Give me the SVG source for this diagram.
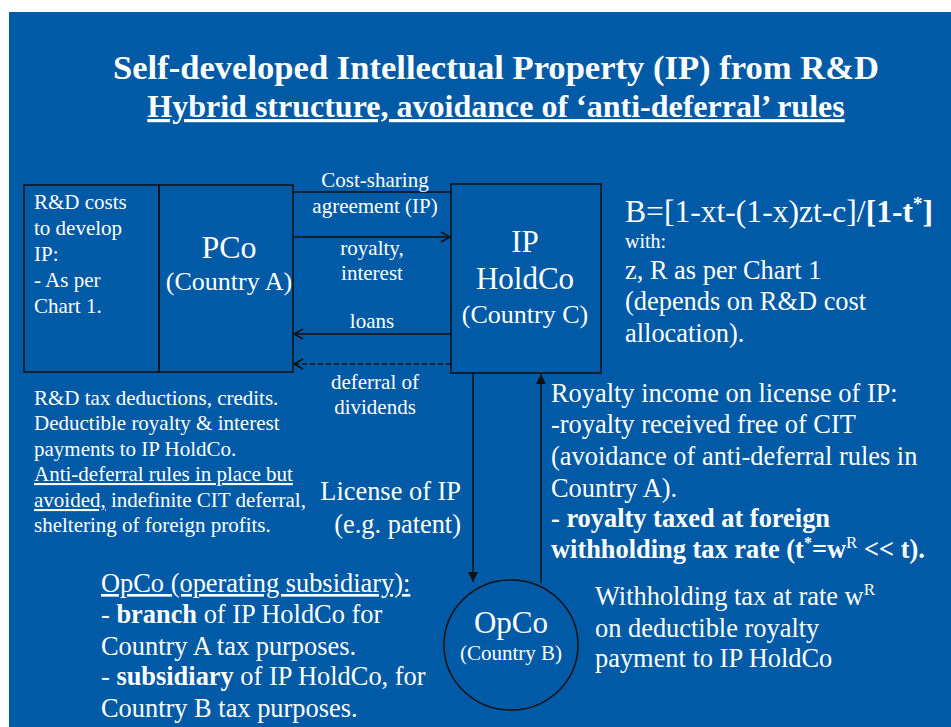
<svg xmlns="http://www.w3.org/2000/svg" width="951" height="727" viewBox="0 0 951 727">
<style>
text{font-family:"Liberation Serif","Times New Roman",serif;fill:#fff}
.t{font-weight:bold}
.s21{font-size:21px}
.s26{font-size:26.4px}
.b{font-weight:bold}
.box{fill:none;stroke:#111;stroke-width:1.5}
.ln{stroke:#111;stroke-width:1.5;fill:none}
</style>
<defs>
<marker id="open" markerUnits="userSpaceOnUse" markerWidth="12" markerHeight="14" refX="10" refY="6" orient="auto">
<path d="M1,1 L10,6 L1,11" fill="none" stroke="#111" stroke-width="1.6"/>
</marker>
<marker id="fill" markerUnits="userSpaceOnUse" markerWidth="12" markerHeight="12" refX="10" refY="5" orient="auto">
<path d="M0,0 L10,5 L0,10 Z" fill="#111"/>
</marker>
</defs>
<rect x="0" y="0" width="951" height="727" fill="#fff"/>
<rect x="9" y="12" width="942" height="715" fill="#005AA5"/>

<g id="title">
<text class="t" x="496" y="79" font-size="34.6" text-anchor="middle">Self-developed Intellectual Property (IP) from R&amp;D</text>
<text class="t" x="496" y="117" font-size="32" text-anchor="middle" text-decoration="underline">Hybrid structure, avoidance of ‘anti-deferral’ rules</text>
</g>

<g id="connectors">
<line class="ln" x1="293" y1="192" x2="451" y2="192"/>
<line class="ln" x1="293" y1="237" x2="450" y2="237" marker-end="url(#open)"/>
<line class="ln" x1="451" y1="334" x2="294" y2="334" marker-end="url(#open)"/>
<line class="ln" x1="451" y1="364" x2="294" y2="364" stroke-dasharray="5,3" marker-end="url(#open)"/>
<line class="ln" x1="473" y1="373" x2="473" y2="582" marker-end="url(#fill)"/>
<line class="ln" x1="541" y1="583" x2="541" y2="374" marker-end="url(#fill)"/>
</g>

<g id="rd-costs">
<rect class="box" x="24" y="185" width="135" height="187"/>
<text class="s21" x="34" y="209">R&amp;D costs</text>
<text class="s21" x="34" y="235">to develop</text>
<text class="s21" x="34" y="261">IP:</text>
<text class="s21" x="34" y="287">- As per</text>
<text class="s21" x="34" y="313">Chart 1.</text>
</g>

<g id="pco">
<rect class="box" x="159" y="185" width="134" height="187"/>
<text x="229" y="258" text-anchor="middle" font-size="32">PCo</text>
<text x="229" y="290" text-anchor="middle" font-size="26">(Country A)</text>
</g>

<g id="ipholdco">
<rect class="box" x="451" y="184" width="150" height="189"/>
<text x="525" y="252" text-anchor="middle" font-size="31">IP</text>
<text x="525" y="289" text-anchor="middle" font-size="31">HoldCo</text>
<text x="525" y="323" text-anchor="middle" font-size="26">(Country C)</text>
</g>

<g id="opco">
<ellipse cx="511" cy="645" rx="67" ry="65" fill="none" stroke="#111" stroke-width="1.5"/>
<text x="511" y="633" text-anchor="middle" font-size="31">OpCo</text>
<text x="511" y="660" text-anchor="middle" font-size="21">(Country B)</text>
</g>

<g id="labels">
<text class="s21" x="375" y="187" text-anchor="middle">Cost-sharing</text>
<text class="s21" x="375" y="213" text-anchor="middle">agreement (IP)</text>
<text class="s21" x="372" y="255" text-anchor="middle">royalty,</text>
<text class="s21" x="372" y="280" text-anchor="middle">interest</text>
<text class="s21" x="372" y="328" text-anchor="middle">loans</text>
<text class="s21" x="375" y="389" text-anchor="middle">deferral of</text>
<text class="s21" x="375" y="414" text-anchor="middle">dividends</text>
<text class="s26" x="461" y="500" text-anchor="end">License of IP</text>
<text class="s26" x="461" y="533" text-anchor="end">(e.g. patent)</text>
</g>

<g id="formula">
<text x="625" y="222" font-size="31.6">B=[1-xt-(1-x)zt-c]/<tspan class="b">[1-t</tspan><tspan class="b" font-size="19" dy="-12">*</tspan><tspan class="b" dy="12">]</tspan></text>
<text x="625" y="248" font-size="20">with:</text>
<text class="s26" x="625" y="279">z, R as per Chart 1</text>
<text class="s26" x="625" y="310">(depends on R&amp;D cost</text>
<text class="s26" x="625" y="342">allocation).</text>
</g>

<g id="pco-notes">
<text class="s21" x="34" y="405">R&amp;D tax deductions, credits.</text>
<text class="s21" x="34" y="430">Deductible royalty &amp; interest</text>
<text class="s21" x="34" y="456">payments to IP HoldCo.</text>
<text class="s21" x="34" y="481" text-decoration="underline">Anti-deferral rules in place but</text>
<text class="s21" x="34" y="507"><tspan text-decoration="underline">avoided,</tspan> indefinite CIT deferral,</text>
<text class="s21" x="34" y="532">sheltering of foreign profits.</text>
</g>

<g id="royalty-notes">
<text class="s26" x="551" y="402">Royalty income on license of IP:</text>
<text class="s26" x="551" y="433">-royalty received free of CIT</text>
<text class="s26" x="551" y="465">(avoidance of anti-deferral rules in</text>
<text class="s26" x="551" y="497">Country A).</text>
<text class="s26 b" x="551" y="527">- royalty taxed at foreign</text>
<text class="s26 b" x="551" y="558">withholding tax rate (t<tspan font-size="16" dy="-10">*</tspan><tspan dy="10">=w</tspan><tspan font-size="17" font-weight="normal" dy="-10">R</tspan><tspan dy="10"> &lt;&lt; t).</tspan></text>
</g>

<g id="opco-notes">
<text class="s26" x="101" y="592" text-decoration="underline">OpCo (operating subsidiary):</text>
<text class="s26" x="101" y="623">- <tspan class="b">branch</tspan> of IP HoldCo for</text>
<text class="s26" x="101" y="655">Country A tax purposes.</text>
<text class="s26" x="101" y="685">- <tspan class="b">subsidiary</tspan> of IP HoldCo, for</text>
<text class="s26" x="101" y="717">Country B tax purposes.</text>
</g>

<g id="withholding-notes">
<text class="s26" x="595" y="605">Withholding tax at rate w<tspan font-size="17" dy="-10">R</tspan></text>
<text class="s26" x="595" y="637">on deductible royalty</text>
<text class="s26" x="595" y="667">payment to IP HoldCo</text>
</g>
</svg>
